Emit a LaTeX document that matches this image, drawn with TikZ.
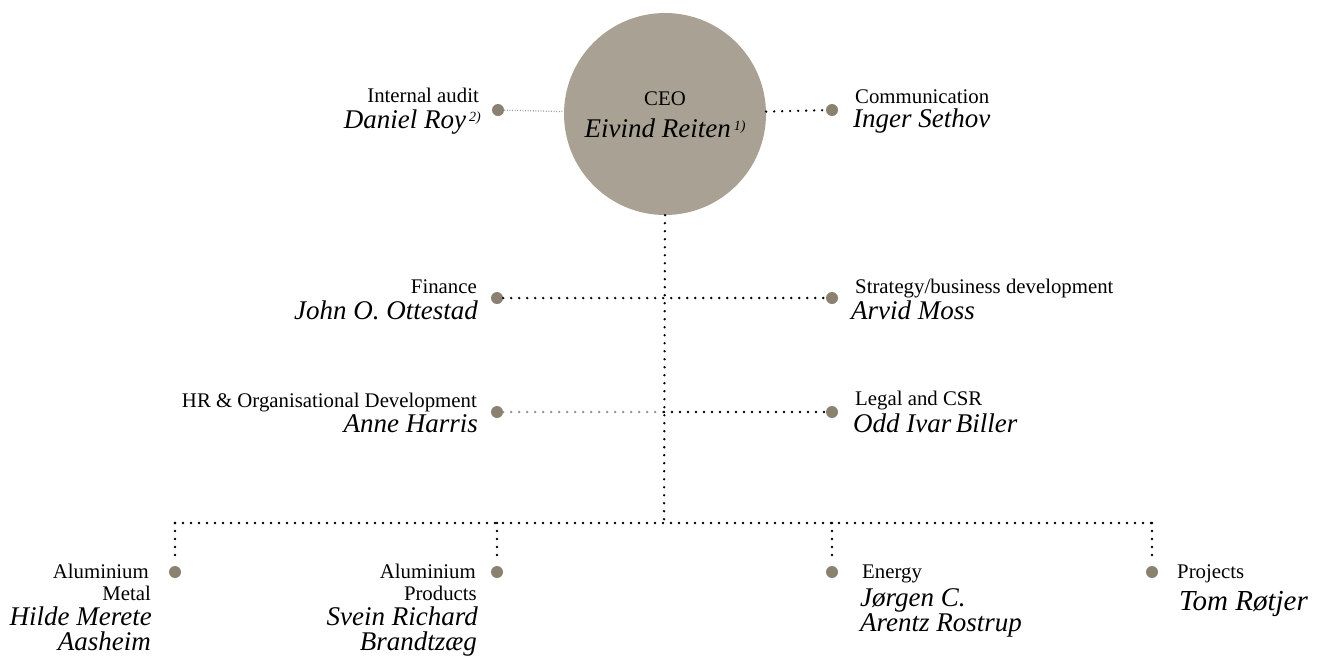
\documentclass[tikz,border=0pt]{standalone}
\usepackage{fontspec}
\setmainfont{Liberation Serif}
\definecolor{circc}{RGB}{169,161,148}
\definecolor{dotc}{RGB}{139,129,113}
\definecolor{gdotc}{RGB}{150,141,126}
\newcommand\rmtxt{\fontsize{20.8}{24}\selectfont}
\newcommand\ittxt{\fontsize{27}{30}\selectfont\itshape}
\newcommand\bigit{\fontsize{29}{32}\selectfont\itshape}
\newcommand\supr[1]{\hspace{3pt}\raisebox{7pt}{\fontsize{14}{14}\selectfont\itshape #1}}
\tikzset{
  pdot/.style={circle, fill=dotc, inner sep=0pt, minimum size=12pt},
  conn/.style={draw=black, line width=2.6pt, line cap=round, dash pattern=on 0pt off 8pt},
  gconn/.style={conn, draw=gdotc},
  fineconn/.style={draw=gray!75, line width=1.3pt, dash pattern=on 1pt off 1.6pt},
  tl/.style={inner sep=0pt, anchor=base west},
  tr/.style={inner sep=0pt, anchor=base east},
  tc/.style={inner sep=0pt, anchor=base},
}
\begin{document}
\begin{tikzpicture}[x=1pt,y=-1pt]
\useasboundingbox (0,0) rectangle (1322,657);
% CEO
\node[circle, fill=circc, inner sep=0pt, minimum size=202pt] (ceo) at (665,114) {};
\node[tc] (ceo-t) at (665,105) {\rmtxt CEO};
\node[tc] (ceo-n) at (665,137) {\ittxt Eivind Reiten\supr{1)}};
% staff dots
\node[pdot] (audit) at (498,110) {};
\node[pdot] (comm) at (832,110) {};
\node[pdot] (fin) at (497,298) {};
\node[pdot] (strat) at (832,298) {};
\node[pdot] (hr) at (497,412) {};
\node[pdot] (legal) at (832,412) {};
% business areas
\node[pdot] (am) at (175,572) {};
\node[pdot] (ap) at (497,572) {};
\node[pdot] (en) at (832,572) {};
\node[pdot] (pr) at (1152,572) {};
\coordinate (hrj) at (664,412);
\coordinate (busL) at (175,523);
\coordinate (busM) at (664,523);
\coordinate (busR) at (1152,523);
% connectors
\draw[fineconn] (audit) -- (ceo);
\draw[conn] (ceo) -- (comm);
\draw[conn] (ceo.south) -- (busM);
\draw[conn] (fin) -- (strat);
\draw[gconn] (hr) -- (hrj);
\draw[conn] (hrj) -- (legal);
\draw[conn] (busL) -- (busR);
\draw[conn, shorten >=4pt] (busL) -- (am);
\draw[conn, shorten >=4pt] (ap |- busL) -- (ap);
\draw[conn, shorten >=4pt] (en |- busL) -- (en);
\draw[conn, shorten >=4pt] (busR) -- (pr);
% texts
\node[tr] (audit-t) at (479,102) {\rmtxt Internal audit};
\node[tr] (audit-n) at (481,128) {\ittxt Daniel Roy\supr{2)}};
\node[tl] (comm-t) at (855,103) {\rmtxt Communication};
\node[tl] (comm-n) at (853,127) {\ittxt Inger Sethov};
\node[tr] (fin-t) at (477,293) {\rmtxt Finance};
\node[tr] (fin-n) at (478,319) {\ittxt John O. Ottestad};
\node[tl] (strat-t) at (855,293) {\rmtxt Strategy/business development};
\node[tl] (strat-n) at (851,319) {\ittxt Arvid Moss};
\node[tr] (hr-t) at (477,407) {\rmtxt HR \& Organisational Development};
\node[tr] (hr-n) at (478,432) {\ittxt Anne Harris};
\node[tl] (legal-t) at (855,405) {\rmtxt Legal and CSR};
\node[tl] (legal-n) at (853,432) {\ittxt Odd Ivar\,Biller};
\node[tr] (am-t1) at (149,578) {\rmtxt Aluminium};
\node[tr] (am-t2) at (151,600) {\rmtxt Metal};
\node[tr] (am-n1) at (152,625) {\ittxt Hilde Merete};
\node[tr] (am-n2) at (151,650) {\ittxt Aasheim};
\node[tr] (ap-t1) at (476,578) {\rmtxt Aluminium};
\node[tr] (ap-t2) at (477,600) {\rmtxt Products};
\node[tr] (ap-n1) at (478,625) {\ittxt Svein Richard};
\node[tr] (ap-n2) at (477,650) {\ittxt Brandtzæg};
\node[tl] (en-t) at (862,578) {\rmtxt Energy};
\node[tl] (en-n1) at (860,606) {\ittxt Jørgen C.};
\node[tl] (en-n2) at (860,631) {\ittxt Arentz Rostrup};
\node[tl] (pr-t) at (1177,578) {\rmtxt Projects};
\node[tl] (pr-n) at (1179,610) {\bigit Tom Røtjer};
\end{tikzpicture}
\end{document}
